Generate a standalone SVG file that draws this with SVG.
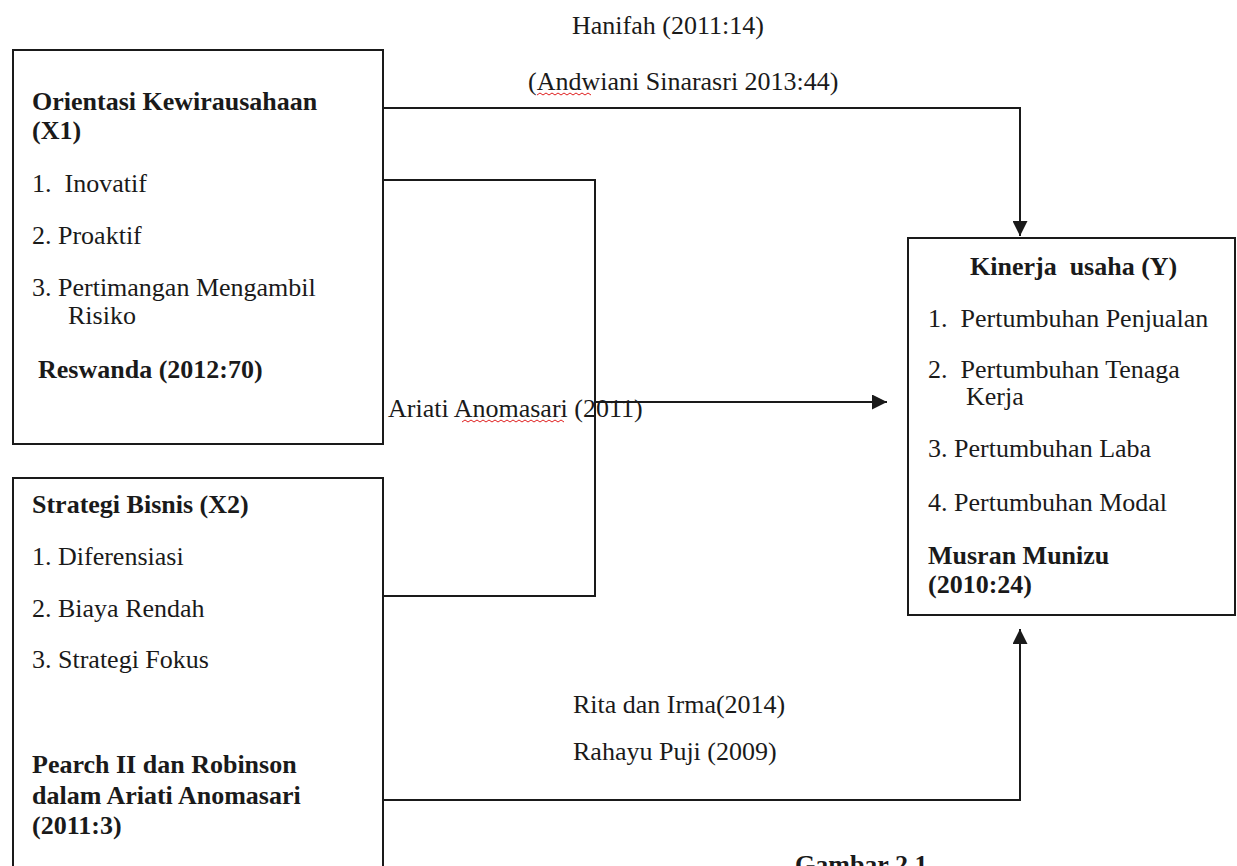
<svg xmlns="http://www.w3.org/2000/svg" width="1237" height="866" viewBox="0 0 1237 866">
<style>
  .box { fill: #ffffff; stroke: #1a1a1a; stroke-width: 2; }
  .t { font-family: "Liberation Serif", "Times New Roman", serif; font-size: 26px; fill: #1a1a1a; }
  .b { font-weight: bold; }
  .conn { fill: none; stroke: #1a1a1a; stroke-width: 2; }
  .sq { fill: none; stroke: #e02020; stroke-width: 1; }
</style>
<defs>
  <marker id="arrb" viewBox="0 0 10 10" refX="10" refY="5" markerWidth="18" markerHeight="15" markerUnits="userSpaceOnUse" orient="auto">
    <path d="M0,0 L10,5 L0,10 Z" fill="#1a1a1a"/>
  </marker>
</defs>
<rect width="1237" height="866" fill="#ffffff"/>

<g id="connectors">
  <path class="conn" d="M383,108 H1020 V236" marker-end="url(#arrb)"/>
  <path class="conn" d="M383,180 H595 V596 H383"/>
  <path class="conn" d="M595,402 H887" marker-end="url(#arrb)"/>
  <path class="conn" d="M383,800 H1020 V629" marker-end="url(#arrb)"/>
</g>

<g id="node-x1">
  <rect class="box" x="13" y="50" width="370" height="394"/>
  <text class="t b" x="32" y="110">Orientasi Kewirausahaan</text>
  <text class="t b" x="32" y="139">(X1)</text>
  <text class="t" x="32" y="192" xml:space="preserve">1.  Inovatif</text>
  <text class="t" x="32" y="244">2. Proaktif</text>
  <text class="t" x="32" y="296">3. Pertimangan Mengambil</text>
  <text class="t" x="68" y="324">Risiko</text>
  <text class="t b" x="38" y="378">Reswanda (2012:70)</text>
</g>

<g id="node-x2">
  <rect class="box" x="13" y="478" width="370" height="420"/>
  <text class="t b" x="32" y="513">Strategi Bisnis (X2)</text>
  <text class="t" x="32" y="565">1. Diferensiasi</text>
  <text class="t" x="32" y="617">2. Biaya Rendah</text>
  <text class="t" x="32" y="668">3. Strategi Fokus</text>
  <text class="t b" x="32" y="773">Pearch II dan Robinson</text>
  <text class="t b" x="32" y="804">dalam Ariati Anomasari</text>
  <text class="t b" x="32" y="834">(2011:3)</text>
</g>

<g id="node-y">
  <rect class="box" x="908" y="238" width="327" height="377"/>
  <text class="t b" x="970" y="275" xml:space="preserve">Kinerja  usaha (Y)</text>
  <text class="t" x="928" y="327" xml:space="preserve">1.  Pertumbuhan Penjualan</text>
  <text class="t" x="928" y="378" xml:space="preserve">2.  Pertumbuhan Tenaga</text>
  <text class="t" x="966" y="405">Kerja</text>
  <text class="t" x="928" y="457">3. Pertumbuhan Laba</text>
  <text class="t" x="928" y="511">4. Pertumbuhan Modal</text>
  <text class="t b" x="928" y="564">Musran Munizu</text>
  <text class="t b" x="928" y="593">(2010:24)</text>
</g>

<g id="labels">
  <text class="t" x="572" y="34">Hanifah (2011:14)</text>
  <text class="t" x="528" y="90">(Andwiani Sinarasri 2013:44)</text>
  <path class="sq" d="M537,95 l3,-2 l3,2 l3,-2 l3,2 l3,-2 l3,2 l3,-2 l3,2 l3,-2 l3,2 l3,-2 l3,2 l3,-2 l3,2 l3,-2 l3,2 l3,-2 l3,2"/>
  <text class="t" x="388" y="417">Ariati Anomasari (2011)</text>
  <path class="sq" d="M462,422 l3,-2 l3,2 l3,-2 l3,2 l3,-2 l3,2 l3,-2 l3,2 l3,-2 l3,2 l3,-2 l3,2 l3,-2 l3,2 l3,-2 l3,2 l3,-2 l3,2 l3,-2 l3,2 l3,-2 l3,2 l3,-2 l3,2 l3,-2 l3,2 l3,-2 l3,2 l3,-2 l3,2 l3,-2 l3,2 l3,-2 l3,2"/>
  <text class="t" x="573" y="713">Rita dan Irma(2014)</text>
  <text class="t" x="573" y="760">Rahayu Puji (2009)</text>
  <text class="t b" x="795" y="873">Gambar 2.1</text>
</g>
</svg>
